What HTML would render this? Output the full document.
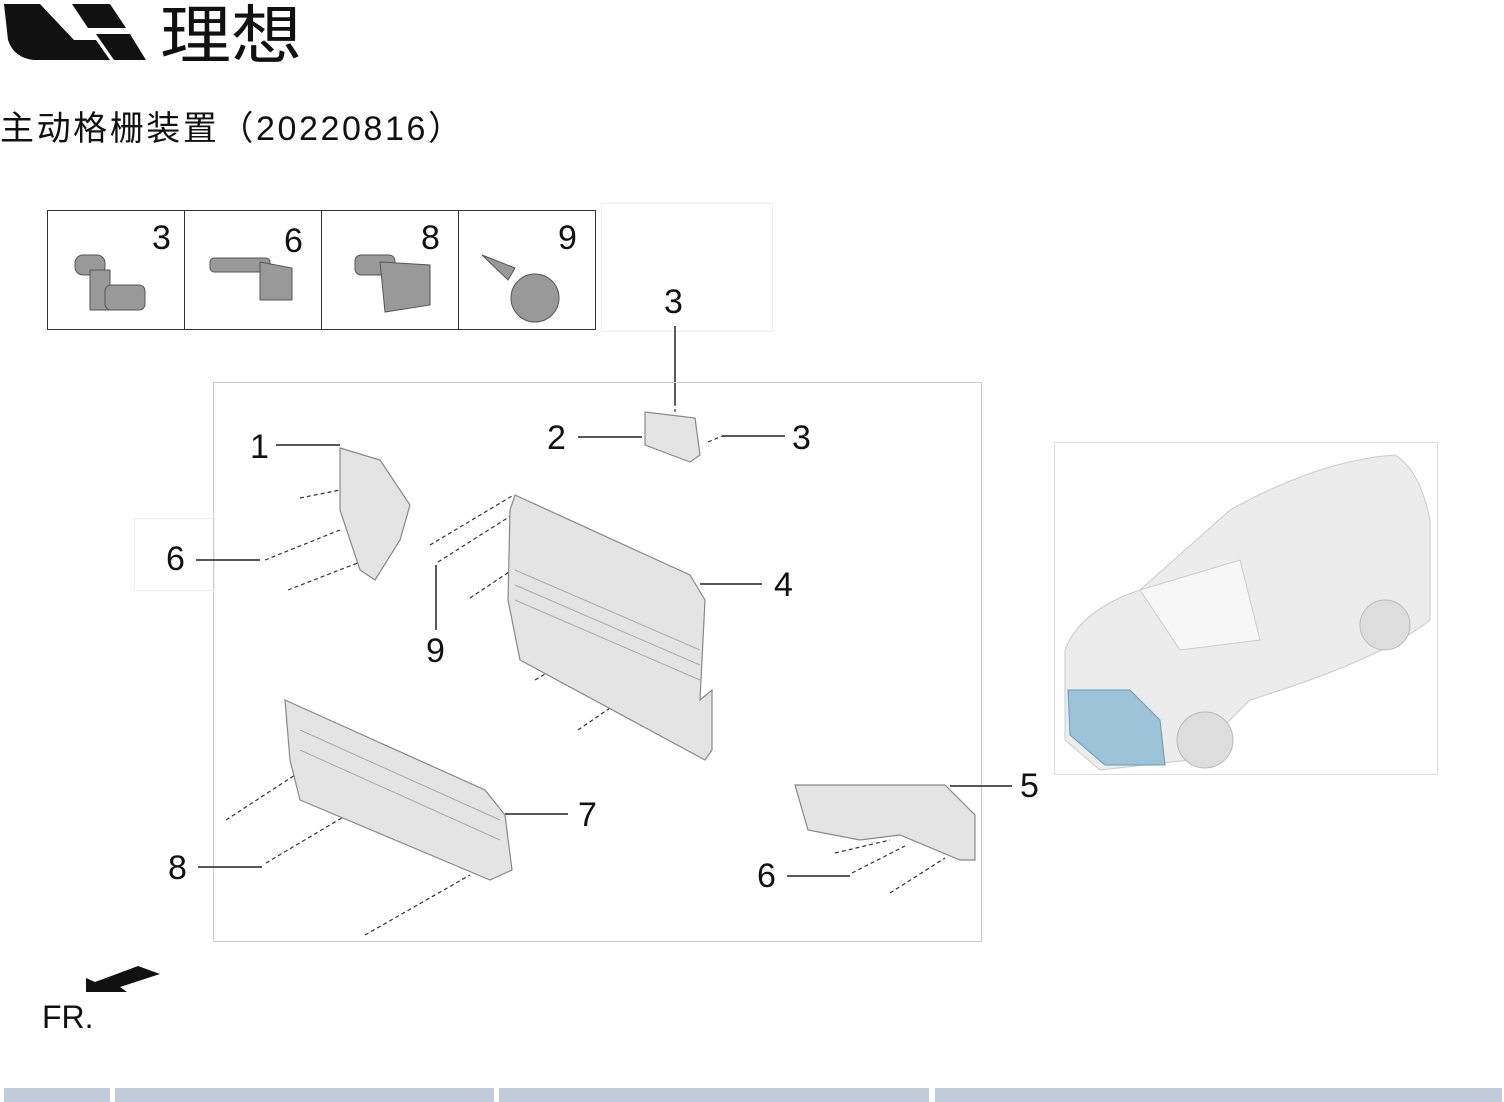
<!DOCTYPE html>
<html><head><meta charset="utf-8"><style>
body{margin:0;background:#fff;width:1504px;height:1102px;overflow:hidden}
svg{display:block}
text{font-family:"Liberation Sans","Noto Sans CJK SC",sans-serif;fill:#111}
</style></head><body>
<svg width="1504" height="1102" viewBox="0 0 1504 1102" xmlns="http://www.w3.org/2000/svg">
<!-- logo -->
<path d="M4 4 L40 4 L74 40 L96 40 L110 60 L34 60 Q14 58 8 40 Z" fill="#111"/>
<path d="M72 4 L110 4 L126 28 L88 28 Z" fill="#111"/>
<path d="M96 34 L130 34 L146 60 L114 60 Z" fill="#111"/>
<text x="160" y="58" font-size="64" textLength="142" lengthAdjust="spacingAndGlyphs" font-family="Noto Sans CJK SC,sans-serif">理想</text>
<text x="0" y="140" font-size="34" textLength="462" font-family="Liberation Sans,Noto Sans CJK SC,sans-serif">主动格栅装置（20220816）</text>
<!-- fastener table -->
<rect x="47.5" y="210.5" width="548" height="119" fill="none" stroke="#333"/>
<line x1="184.5" y1="210" x2="184.5" y2="330" stroke="#333"/>
<line x1="321.5" y1="210" x2="321.5" y2="330" stroke="#333"/>
<line x1="458.5" y1="210" x2="458.5" y2="330" stroke="#333"/>
<rect x="601.5" y="203.5" width="171" height="128" fill="none" stroke="#eee"/>
<g font-size="34"><text x="152" y="249">3</text><text x="284" y="252">6</text><text x="421" y="249">8</text><text x="558" y="249">9</text></g>
<g fill="#999" stroke="#555">
<rect x="75" y="255" width="30" height="20" rx="8"/><rect x="90" y="270" width="20" height="40"/><rect x="105" y="285" width="40" height="25" rx="6"/>
<rect x="210" y="258" width="60" height="14" rx="4"/><polygon points="260,262 292,268 292,300 260,300"/>
<rect x="355" y="255" width="40" height="20" rx="6"/><polygon points="380,262 430,265 430,305 385,312"/>
<polygon points="482,255 515,268 508,280"/><circle cx="535" cy="298" r="24"/>
</g>
<!-- 3 top -->
<text x="664" y="313" font-size="34">3</text>
<line x1="675" y1="326" x2="675" y2="405" stroke="#222" stroke-width="1.5"/>
<!-- main frame -->
<rect x="213.5" y="382.5" width="768" height="559" fill="none" stroke="#ccc"/>
<rect x="134.5" y="518.5" width="80" height="72" fill="none" stroke="#eee"/>
<g font-size="34">
<text x="250" y="458">1</text><text x="547" y="449">2</text><text x="792" y="449">3</text>
<text x="166" y="570">6</text><text x="774" y="596">4</text><text x="426" y="662">9</text>
<text x="1020" y="797">5</text><text x="578" y="826">7</text><text x="168" y="879">8</text><text x="757" y="887">6</text>
</g>
<g stroke="#222" stroke-width="1.5">
<line x1="276" y1="445" x2="340" y2="445"/><line x1="578" y1="437" x2="642" y2="437"/><line x1="722" y1="436" x2="785" y2="436"/>
<line x1="196" y1="560" x2="260" y2="560"/><line x1="700" y1="584" x2="762" y2="584"/><line x1="436" y1="565" x2="436" y2="630"/>
<line x1="950" y1="786" x2="1012" y2="786"/><line x1="505" y1="814" x2="568" y2="814"/><line x1="198" y1="867" x2="262" y2="867"/><line x1="787" y1="876" x2="850" y2="876"/>
</g>
<g stroke="#333" stroke-width="1.2" stroke-dasharray="4,3" fill="none">
<line x1="300" y1="498" x2="340" y2="490"/><line x1="265" y1="560" x2="340" y2="530"/><line x1="288" y1="590" x2="360" y2="562"/>
<line x1="430" y1="545" x2="512" y2="496"/><line x1="438" y1="562" x2="512" y2="515"/><line x1="470" y1="598" x2="512" y2="570"/>
<line x1="535" y1="680" x2="555" y2="668"/><line x1="578" y1="730" x2="610" y2="708"/>
<line x1="226" y1="820" x2="295" y2="775"/><line x1="266" y1="863" x2="355" y2="810"/><line x1="365" y1="935" x2="470" y2="875"/>
<line x1="835" y1="853" x2="890" y2="840"/><line x1="852" y1="873" x2="905" y2="846"/><line x1="890" y1="893" x2="945" y2="858"/>
<line x1="675" y1="395" x2="675" y2="412"/><line x1="708" y1="442" x2="722" y2="436"/>
</g>
<!-- parts -->
<g fill="#e4e4e4" stroke="#888" stroke-width="1.2">
<polygon points="340,448 380,460 410,505 400,540 375,580 360,570 340,510"/>
<polygon points="645,412 695,418 700,455 690,462 645,445"/>
<polygon points="515,495 690,575 705,600 700,700 712,690 712,750 705,760 520,660 508,600 510,510"/>
<polygon points="285,700 485,790 505,815 512,870 490,880 300,800 290,760"/>
<polygon points="795,785 945,785 975,815 975,860 960,860 900,835 860,840 808,830"/>
</g>
<g stroke="#aaa" stroke-width="1">
<line x1="515" y1="570" x2="700" y2="650"/><line x1="515" y1="585" x2="700" y2="665"/><line x1="515" y1="600" x2="700" y2="680"/>
<line x1="300" y1="730" x2="500" y2="820"/><line x1="300" y1="750" x2="500" y2="840"/>
</g>
<!-- car image -->
<rect x="1054.5" y="442.5" width="383" height="332" fill="none" stroke="#ddd"/>
<path d="M1065 650 Q1080 610 1140 590 L1230 510 Q1320 460 1395 455 Q1420 470 1430 520 L1430 620 Q1380 660 1250 700 L1190 760 L1100 770 L1065 740 Z" fill="#ececec" stroke="#ccc"/>
<path d="M1140 590 L1240 560 L1260 640 L1180 650 Z" fill="#f7f7f7" stroke="#ccc"/>
<circle cx="1205" cy="740" r="28" fill="#ddd" stroke="#bbb"/><circle cx="1385" cy="625" r="25" fill="#ddd" stroke="#bbb"/>
<polygon points="1068,690 1130,690 1160,720 1165,765 1105,765 1070,735" fill="#9cc3d8" stroke="#6a9ab5"/>
<!-- FR -->
<polygon points="86,978 95,982 138,966 160,974 120,987 127,992 86,992" fill="#111"/>
<text x="42" y="1028" font-size="32">FR.</text>
<!-- bottom bar -->
<g fill="#c0ccd9"><rect x="4" y="1088" width="106" height="14"/><rect x="115" y="1088" width="379" height="14"/><rect x="499" y="1088" width="430" height="14"/><rect x="935" y="1088" width="567" height="14"/></g>
</svg>
</body></html>
